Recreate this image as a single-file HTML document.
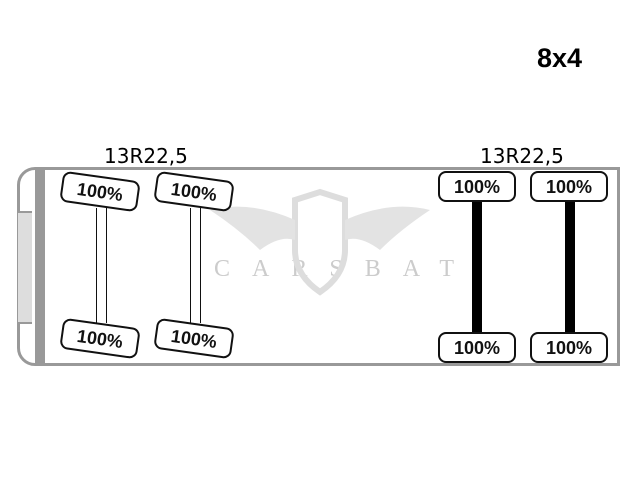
<!DOCTYPE html>
<html><head><style>
body{margin:0;width:640px;height:480px;background:#fff;position:relative;overflow:hidden;font-family:"DejaVu Sans","Liberation Sans",sans-serif}
.t{position:absolute;width:78px;height:31px;border:2px solid #111;border-radius:8px;background:#fff;box-sizing:border-box;font-weight:bold;font-size:18px;text-align:center;line-height:28px;color:#111;font-family:"Liberation Sans",sans-serif}
.r{transform:rotate(8deg)}
.a{position:absolute}
</style></head><body>
<div class="a" style="left:537px;top:43px;font-weight:bold;font-size:27px;font-family:'Liberation Sans',sans-serif">8x4</div>
<div class="a" style="left:104px;top:144px;font-size:20px">13R22,5</div>
<div class="a" style="left:480px;top:144px;font-size:20px">13R22,5</div>
<div class="a" style="left:17px;top:167px;width:603px;height:199px;border:3px solid #999;border-radius:18px 0 0 18px;box-sizing:border-box"></div>
<div class="a" style="left:35px;top:168px;width:10px;height:197px;background:#999"></div>
<div class="a" style="left:18px;top:211px;width:14px;height:109px;background:#ddd;border-top:2px solid #999;border-bottom:2px solid #999"></div>
<div class="a" style="left:214px;top:256px;font-family:'Liberation Serif',serif;font-size:24px;letter-spacing:22px;color:#ccc">CARSBAT</div>
<svg class="a" style="left:200px;top:180px" width="240" height="120"><path d="M95 20 L120 12 L145 20 L145 70 Q145 95 120 112 Q95 95 95 70Z" fill="none" stroke="#ddd" stroke-width="6"/><path d="M95 40 Q50 20 10 30 Q40 50 60 70 Q80 55 95 60Z M145 40 Q190 20 230 30 Q200 50 180 70 Q160 55 145 60Z" fill="#e3e3e3"/></svg>
<div class="a" style="left:96px;top:208px;width:9px;height:115px;border-left:1.5px solid #111;border-right:1.5px solid #111"></div>
<div class="a" style="left:190px;top:208px;width:9px;height:115px;border-left:1.5px solid #111;border-right:1.5px solid #111"></div>
<div class="a" style="left:472px;top:198px;width:10px;height:136px;background:#000"></div>
<div class="a" style="left:565px;top:198px;width:10px;height:136px;background:#000"></div>
<div class="t r" style="left:61px;top:176px">100%</div>
<div class="t r" style="left:155px;top:176px">100%</div>
<div class="t r" style="left:61px;top:323px">100%</div>
<div class="t r" style="left:155px;top:323px">100%</div>
<div class="t" style="left:438px;top:171px">100%</div>
<div class="t" style="left:530px;top:171px">100%</div>
<div class="t" style="left:438px;top:332px">100%</div>
<div class="t" style="left:530px;top:332px">100%</div>
</body></html>
